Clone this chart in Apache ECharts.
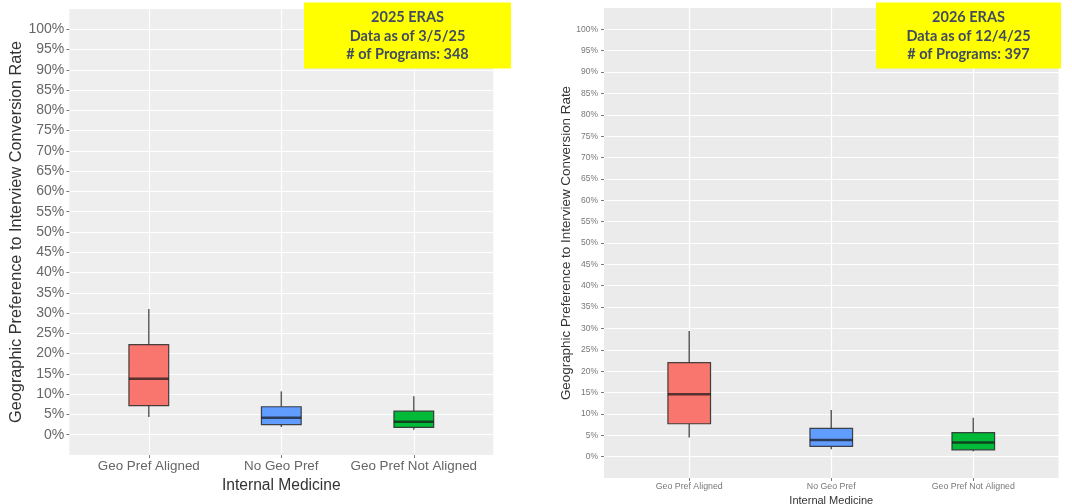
<!DOCTYPE html>
<html>
<head>
<meta charset="utf-8">
<script src="https://cdn.jsdelivr.net/npm/echarts@6/dist/echarts.min.js"></script>
<style>
html,body{margin:0;padding:0;background:#fff;}
#chart{width:1072px;height:504px;}
</style>
</head>
<body>
<div id="chart"></div>
<script>
// ---- data ----
const categories = ['Geo Pref Aligned', 'No Geo Pref', 'Geo Pref Not Aligned'];
const categoryPos = [1, 2, 3];
const percentTicks = [0,5,10,15,20,25,30,35,40,45,50,55,60,65,70,75,80,85,90,95,100];

// 2025 ERAS (left)
const low2025    = [4.4, 1.9, 1.2];
const q1_2025    = [7.2, 2.5, 1.8];
const median2025 = [13.8, 4.2, 3.2];
const q3_2025    = [22.2, 6.9, 5.8];
const high2025   = [31.0, 10.7, 9.5];

// 2026 ERAS (right)
const low2026    = [4.5, 1.7, 1.25];
const q1_2026    = [7.7, 2.4, 1.6];
const median2026 = [14.6, 3.9, 3.3];
const q3_2026    = [22.0, 6.6, 5.6];
const high2026   = [29.4, 10.9, 9.1];

const boxColors = ['#F8766D', '#619CFF', '#00BA38'];

const note2025 = ['2025 ERAS', 'Data as of 3/5/25', '# of Programs: 348'];
const note2026 = ['2026 ERAS', 'Data as of 12/4/25', '# of Programs: 397'];

const yTitle = 'Geographic Preference to Interview Conversion Rate';
const xTitle = 'Internal Medicine';

// ---- build ----
function rows(lo, q1, md, q3, hi) {
  return categoryPos.map((x, i) => [x, lo[i], q1[i], md[i], q3[i], hi[i], i]);
}

function renderBox(params, api) {
  const x = api.value(0);
  const lo = api.coord([x, api.value(1)]);
  const q1 = api.coord([x, api.value(2)]);
  const md = api.coord([x, api.value(3)]);
  const q3 = api.coord([x, api.value(4)]);
  const hi = api.coord([x, api.value(5)]);
  const w = api.size([0.3, 0])[0];
  const cx = lo[0];
  const color = boxColors[api.value(6)];
  return {
    type: 'group',
    children: [
      { type: 'line', shape: { x1: cx, y1: hi[1], x2: cx, y2: q3[1] },
        style: { stroke: '#5c5c5c', lineWidth: 1.5 } },
      { type: 'line', shape: { x1: cx, y1: q1[1], x2: cx, y2: lo[1] },
        style: { stroke: '#5c5c5c', lineWidth: 1.5 } },
      { type: 'rect', shape: { x: cx - w / 2, y: q3[1], width: w, height: q1[1] - q3[1] },
        style: { fill: color, stroke: 'rgba(40,40,40,0.85)', lineWidth: 1.2 } },
      { type: 'line', shape: { x1: cx - w / 2, y1: md[1], x2: cx + w / 2, y2: md[1] },
        style: { stroke: 'rgba(20,20,20,0.7)', lineWidth: 2.6 } }
    ]
  };
}

const panels = [
  { left: 69.3, width: 424, top: 9, height: 446, bg: '#EEEEEE',
    tickFont: 14, catFont: 13.4, titleFont: 15.6, yTitleFont: 16.3, tickColor: '#666',
    yLabelMargin: 5, yNameGap: 45, xLabelMargin: 5, xNameGap: 20, tickLen: 3 },
  { left: 604, width: 454.5, top: 8, height: 470, bg: '#EBEBEB',
    tickFont: 8.5, catFont: 8.8, titleFont: 11, yTitleFont: 13.4, tickColor: '#777',
    yLabelMargin: 6, yNameGap: 31, xLabelMargin: 4, xNameGap: 14, tickLen: 3 }
];

const grid = [], xAxis = [], yAxis = [], series = [];
const datasets = [rows(low2025, q1_2025, median2025, q3_2025, high2025),
                  rows(low2026, q1_2026, median2026, q3_2026, high2026)];

panels.forEach((p, i) => {
  grid.push({ left: p.left, top: p.top, width: p.width, height: p.height,
              show: true, backgroundColor: p.bg, borderWidth: 0,
              containLabel: false, outerBoundsMode: 'none' });
  xAxis.push({
    type: 'value', gridIndex: i, min: 0.4, max: 3.6, position: 'bottom',
    axisLine: { show: false, onZero: false },
    axisTick: { show: true, customValues: categoryPos, length: p.tickLen,
                lineStyle: { color: '#7a7a7a', width: 1 } },
    axisLabel: { show: true, customValues: categoryPos, margin: p.xLabelMargin,
                 fontFamily: 'Liberation Sans', fontSize: p.catFont, color: p.tickColor,
                 formatter: v => categories[Math.round(v) - 1] || '' },
    splitLine: { show: true, lineStyle: { color: '#ffffff', width: 1.2 } },
    name: xTitle, nameLocation: 'middle', nameGap: p.xNameGap,
    nameTextStyle: { fontFamily: 'Liberation Sans', fontSize: p.titleFont, color: '#333' }
  });
  yAxis.push({
    type: 'value', gridIndex: i, min: -5, max: 105,
    axisLine: { show: false, onZero: false },
    axisTick: { show: true, customValues: percentTicks, length: p.tickLen,
                lineStyle: { color: '#7a7a7a', width: 1 } },
    axisLabel: { show: true, customValues: percentTicks, margin: p.yLabelMargin,
                 fontFamily: 'Liberation Sans', fontSize: p.tickFont, color: p.tickColor,
                 formatter: v => v + '%' },
    splitLine: { show: true, lineStyle: { color: '#ffffff', width: 1.2 } },
    name: yTitle, nameLocation: 'middle', nameGap: p.yNameGap, nameRotate: 90,
    nameTextStyle: { fontFamily: 'Liberation Sans', fontSize: p.yTitleFont, color: '#333' }
  });
  series.push({
    type: 'custom', xAxisIndex: i, yAxisIndex: i,
    renderItem: renderBox,
    encode: { x: 0, y: [1, 2, 3, 4, 5] },
    data: datasets[i], z: 5
  });
});

function note(lines, left, top, width, height) {
  const children = [{ type: 'rect', z: 100, shape: { x: 0, y: 0, width: width, height: height },
                      style: { fill: '#FFFF00' } }];
  lines.forEach((t, k) => children.push({
    type: 'text', z: 101, x: width / 2, y: 15 + k * 18.5,
    style: { text: t, fill: '#414c5f', font: 'bold 14.5px Lato', align: 'center', verticalAlign: 'middle' }
  }));
  return { type: 'group', left: left, top: top, z: 100, children: children };
}

const chart = echarts.init(document.getElementById('chart'), null, { renderer: 'canvas' });
chart.setOption({
  backgroundColor: '#ffffff',
  animation: false,
  grid: grid, xAxis: xAxis, yAxis: yAxis, series: series,
  graphic: [ note(note2025, 304, 2.5, 207, 66), note(note2026, 876, 2.5, 185, 66) ]
});
</script>
</body>
</html>
